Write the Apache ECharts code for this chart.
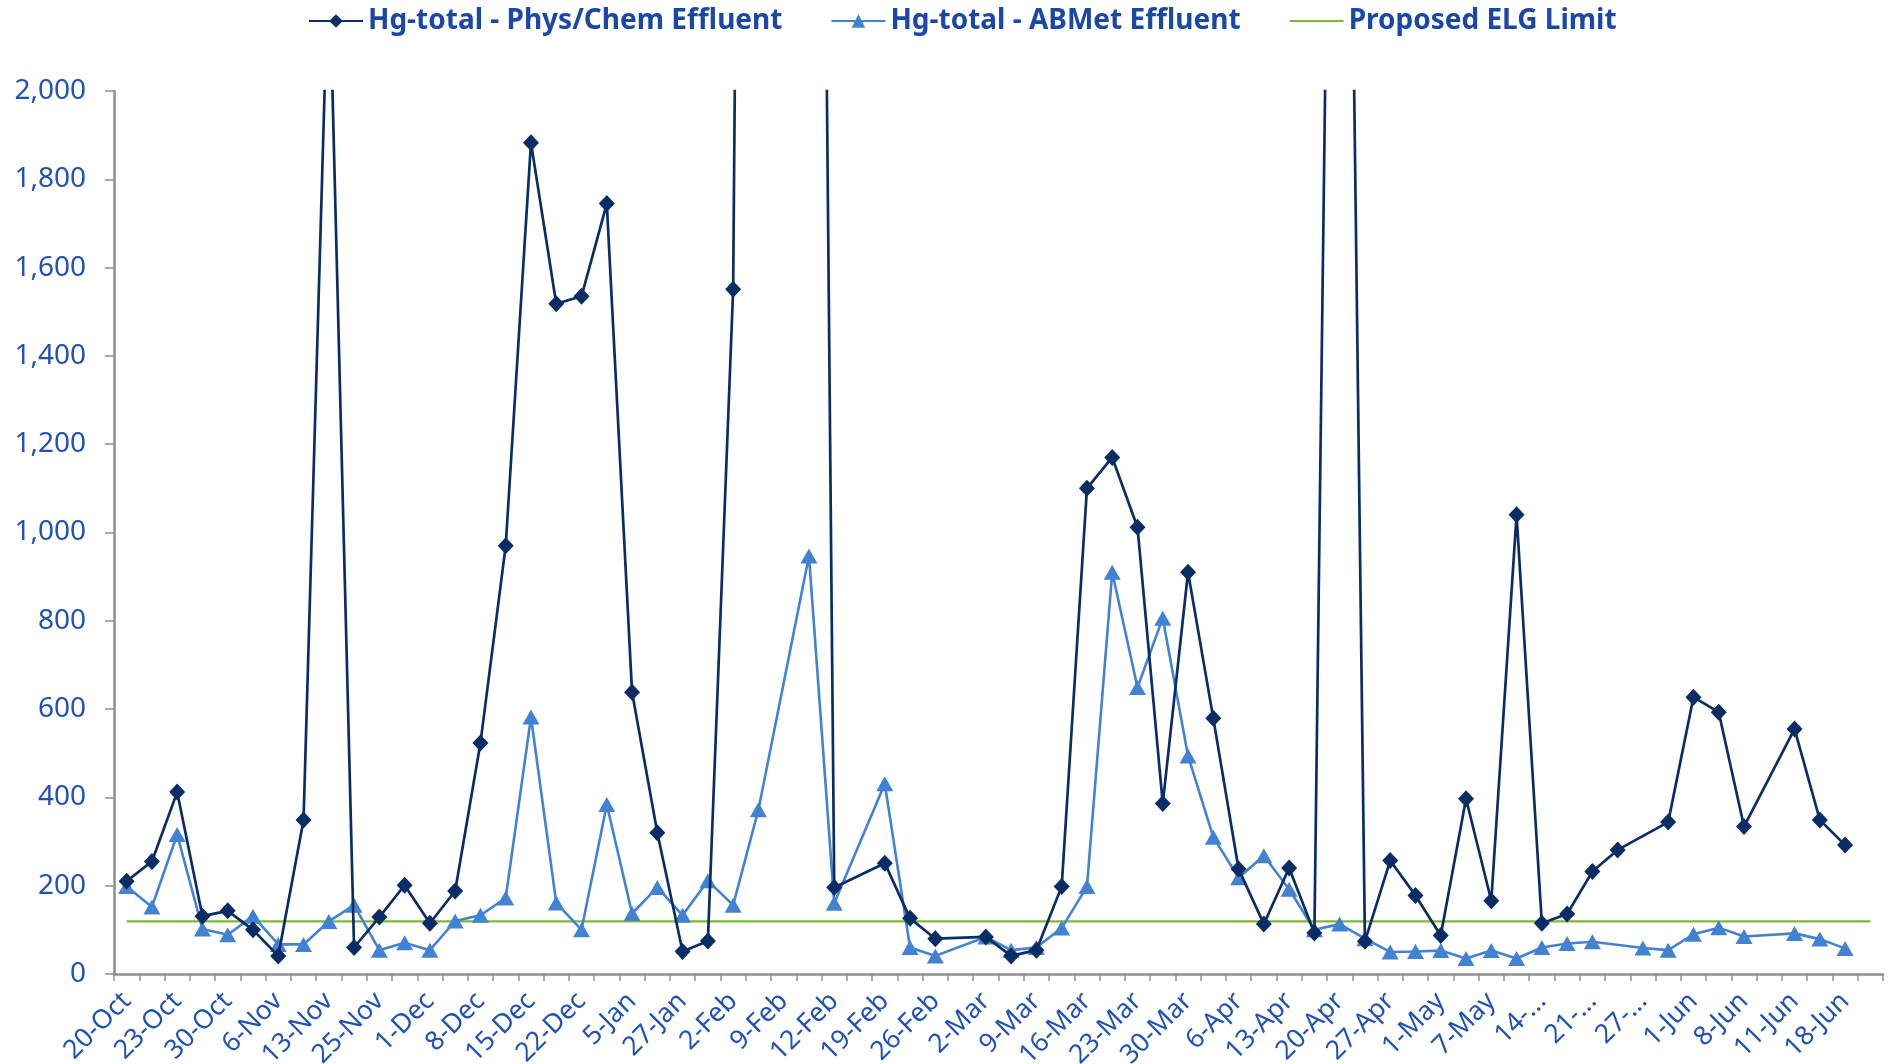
<!DOCTYPE html>
<html>
<head>
<meta charset="utf-8">
<script src="https://cdn.jsdelivr.net/npm/echarts@6/dist/echarts.min.js"></script>
<style>
  html, body { margin: 0; padding: 0; background: #ffffff; }
  #chart { width: 1893px; height: 1064px; }
</style>
</head>
<body>
<div id="chart"></div>
<script>
// Sampling dates shown on the axis (one label per two sample slots)
const tickLabels = ['20-Oct', '23-Oct', '30-Oct', '6-Nov', '13-Nov', '25-Nov', '1-Dec', '8-Dec',
  '15-Dec', '22-Dec', '5-Jan', '27-Jan', '2-Feb', '9-Feb', '12-Feb', '19-Feb', '26-Feb',
  '2-Mar', '9-Mar', '16-Mar', '23-Mar', '30-Mar', '6-Apr', '13-Apr', '20-Apr', '27-Apr',
  '1-May', '7-May', '14-...', '21-...', '27-...', '1-Jun', '8-Jun', '11-Jun', '18-Jun'];

// Total mercury (ng/L), physical/chemical treatment effluent; null = no sample
const physChem = [210, 255, 412, 131, 143, 100, 41, 349, 2330, 60,
  129, 201, 115, 188, 523, 970, 1883, 1518, 1535, 1745,
  638, 320, 51, 75, 1551, 8600, null, 6400, 196, null,
  251, 126, 80, null, 84, 41, 54, 198, 1100, 1170,
  1012, 386, 910, 579, 238, 113, 240, 93, 4600, 74,
  257, 178, 87, 397, 166, 1040, 115, 136, 232, 281,
  null, 344, 627, 593, 334, null, 555, 349, 292, null];

// Total mercury (ng/L), ABMet biological treatment effluent; null = no sample
const abmet = [198, 152, 316, 102, 89, 131, 67, 67, 119, 156,
  54, 71, 54, 120, 133, 172, 582, 161, 100, 384,
  137, 196, 133, 211, 156, 372, null, 947, 160, null,
  431, 60, 41, null, 84, 54, 60, 104, 198, 910,
  649, 806, 494, 310, 218, 268, 192, 100, 113, 80,
  50, 51, 53, 35, 53, 35, 60, 69, 73, null,
  59, 54, 90, 105, 85, null, 92, 79, 58, null];

// Proposed effluent limitation guideline for mercury (ng/L)
const elgLimit = 119;

// Y axis range
const yMin = 0;
const yMax = 2000;
const yStep = 200;

// Build the category slots: each labelled date is followed by an unlabelled sample slot
const categories = [];
tickLabels.forEach(function (lbl) { categories.push(lbl); categories.push(''); });
const limitLine = categories.map(function () { return elgLimit; });

const FONT = "'Noto Sans', 'Open Sans', sans-serif";
const LABEL_BLUE = '#2052B5';
const AXIS_GREY = '#8E8E8E';

const chart = echarts.init(document.getElementById('chart'), null, { renderer: 'canvas' });

chart.setOption({
  animation: false,
  backgroundColor: '#ffffff',
  legend: {
    top: 2,
    left: 303,
    itemWidth: 54,
    itemHeight: 17,
    itemGap: 48,
    textStyle: { fontFamily: FONT, fontSize: 28, fontWeight: 'bold', color: '#1B48A6' },
    data: [
      { name: 'Hg-total - Phys/Chem Effluent' },
      { name: 'Hg-total - ABMet Effluent' },
      { name: 'Proposed ELG Limit', itemStyle: { opacity: 0 } }
    ]
  },
  grid: { left: 114, right: 10, top: 91, bottom: 90, containLabel: false,
    outerBoundsMode: 'none' },
  xAxis: {
    type: 'category',
    data: categories,
    boundaryGap: true,
    axisLine: { show: true, lineStyle: { color: AXIS_GREY, width: 2.5 } },
    axisTick: { show: true, interval: 0, alignWithLabel: false, length: 7,
      lineStyle: { color: AXIS_GREY, width: 1.5 } },
    axisLabel: { interval: 0, rotate: 45, margin: 23, fontFamily: FONT, fontSize: 26.5,
      color: LABEL_BLUE },
    splitLine: { show: false }
  },
  yAxis: {
    type: 'value',
    min: yMin,
    max: yMax,
    interval: yStep,
    axisLine: { show: true, lineStyle: { color: AXIS_GREY, width: 2.5 } },
    axisTick: { show: true, length: 9, lineStyle: { color: AXIS_GREY, width: 1.5 } },
    axisLabel: { margin: 28, fontFamily: FONT, fontSize: 28, color: LABEL_BLUE,
      formatter: function (v) { return v.toLocaleString('en-US'); } },
    splitLine: { show: false }
  },
  series: [
    {
      name: 'Hg-total - Phys/Chem Effluent',
      type: 'line',
      data: physChem,
      connectNulls: true,
      clip: true,
      symbol: 'diamond',
      symbolSize: [16, 17],
      itemStyle: { color: '#0B2D66' },
      lineStyle: { color: '#0B2D66', width: 2.7 },
      z: 3
    },
    {
      name: 'Hg-total - ABMet Effluent',
      type: 'line',
      data: abmet,
      connectNulls: true,
      clip: true,
      symbol: 'triangle',
      symbolSize: [17, 15],
      itemStyle: { color: '#4282D3' },
      lineStyle: { color: '#4282D3', width: 2.6 },
      z: 2
    },
    {
      name: 'Proposed ELG Limit',
      type: 'line',
      data: limitLine,
      symbol: 'none',
      itemStyle: { color: '#7DB83A' },
      lineStyle: { color: '#7DB83A', width: 2.2 },
      z: 1
    }
  ]
});
</script>
</body>
</html>
